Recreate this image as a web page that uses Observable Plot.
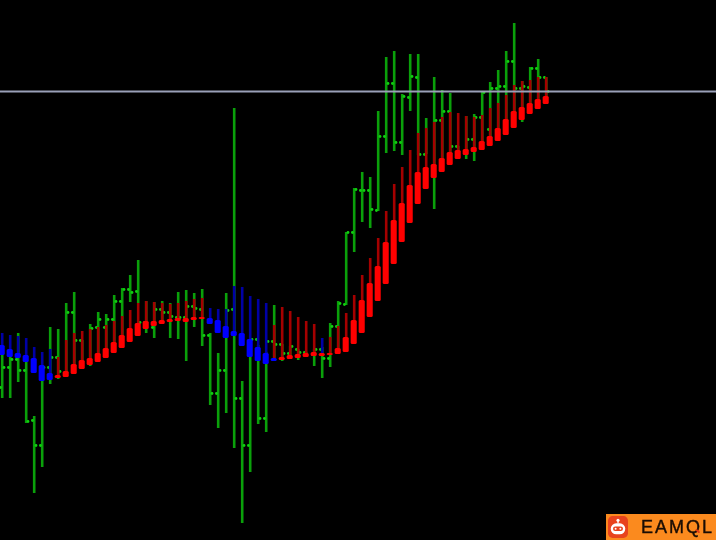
<!DOCTYPE html>
<html><head><meta charset="utf-8">
<script src="https://cdn.jsdelivr.net/npm/d3@7"></script>
<script src="https://cdn.jsdelivr.net/npm/@observablehq/plot@0.6"></script>
<style>
html,body{margin:0;padding:0;background:#000;width:716px;height:540px;overflow:hidden}
#chart{position:absolute;left:0;top:0;width:716px;height:540px;filter:blur(.35px)}
#chart svg{display:block;background:#000}
#logo{position:absolute;right:0;bottom:0;width:110px;height:26px;background:#fb8a1e;overflow:hidden;filter:blur(.3px)}
#logo svg{position:absolute;left:2px;top:2px}
#logo span{position:absolute;left:35px;top:2px;font:400 18px/23px "Liberation Sans",sans-serif;color:#1a0d05;letter-spacing:2px;-webkit-text-stroke:.4px #1a0d05;white-space:nowrap}
#logo b{position:absolute;left:89px;top:16px;width:5px;height:2.4px;border-radius:1px;background:#e23a17;transform:rotate(40deg)}
</style></head><body>
<div id="chart"></div>
<div id="logo"><svg width="20" height="22" viewBox="0 0 22 24"><rect x="0" y="0" width="22" height="24" rx="5" fill="#e8431d"/><circle cx="11" cy="4.5" r="1.7" fill="#fff"/><rect x="10.3" y="5" width="1.4" height="3" fill="#fff"/><rect x="3" y="8" width="16" height="12" rx="6" fill="#fff"/><rect x="5.5" y="11.5" width="11" height="5" rx="2.5" fill="#e8431d"/><circle cx="8.4" cy="14" r="1.1" fill="#fff"/><circle cx="13.6" cy="14" r="1.1" fill="#fff"/></svg><span>EAMQL</span><b></b></div>
<script>
const highs=[353,357,333,355,416,365,327,329,303,292,340,324,312,314,295,288,275,260,301,302,301,303,292,290,293,289,333,353,293,108,381,340,345,352,305,344,346,349,352,349,347,323,301,232,188,172,177,111,57,51,94,54,54,118,77,90,93,146,116,114,92,82,70,51,23,81,67,59,77];
const lows=[398,398,382,423,493,467,384,379,377,374,369,366,362,358,353,348,302,303,333,338,324,338,339,361,327,346,405,428,413,448,523,472,424,432,361,361,359,360,357,366,378,367,354,305,252,222,228,211,153,151,155,111,155,154,209,172,165,159,159,161,150,146,141,135,127,122,114,109,104];
const opens=[387,367,359,370,420,445,367,357,null,312,340,null,327,327,319,301,289,291,322,327,309,312,317,317,306,309,335,393,370,309,398,445,339,418,341,344,353,349,352,354,349,358,326,304,232,190,190,210,136,83,142,97,77,154,null,120,111,146,null,139,117,129,88,86,61,88,87,68,77];
const closes=[367,359,370,421,445,367,357,371,312,340,null,328,319,319,301,289,292,322,null,309,312,316,317,306,308,335,393,370,310,398,445,339,418,341,344,353,346,352,null,349,358,326,303,232,189,190,209,136,83,142,96,76,154,null,120,111,146,null,139,117,92,88,86,61,88,86,68,77,91];
const wickTops=[333,335,336,338,347,352,349,357,340,333,331,329,327,325,321,316,310,303,301,302,303,304,303,301,299,298,308,309,309,286,287,296,299,303,325,307,311,317,321,324,338,337,326,313,295,275,258,238,211,184,167,150,133,128,122,117,112,113,116,117,115,108,103,95,85,81,80,77,77];
const bodyTops=[345,349,353,355,358,365,373,375,371,364,360,358,353,348,342,335,328,323,321,321,320,319,318,318,317,317,318,320,326,331,333,339,347,353,358,357,355,354,353,352,353,353,348,337,320,300,283,266,242,220,203,185,172,167,164,158,152,150,149,147,141,136,128,119,111,107,103,99,96];
const bodyBottoms=[355,357,358,362,373,381,380,378,377,374,369,365,362,358,353,348,342,336,329,326,324,322,321,322,320,319,324,333,338,336,346,357,361,364,361,360,359,358,357,356,356,355,354,352,344,333,317,301,284,264,242,223,204,189,178,172,165,159,155,152,150,146,141,135,128,120,114,109,104];
const bodySides=["down","down","down","down","down","down","down","up","up","up","up","up","up","up","up","up","up","up","up","up","up","up","up","up","up","up","down","down","down","down","down","down","down","down","down","up","up","up","up","up","up","up","up","up","up","up","up","up","up","up","up","up","up","up","up","up","up","up","up","up","up","up","up","up","up","up","up","up","up"];
const wickSides=bodySides.map((s,i)=>i===34?"up":i===40?"down":s);
const levelLine=[91];
const bars=d3.range(bodyTops.length);

const plot=Plot.plot({
  width:716,height:540,margin:0,
  style:{background:"#000"},
  x:{domain:[-0.2125,89.2875],range:[0,716],axis:null},
  y:{domain:[540,0],range:[540,0],axis:null},
  color:{domain:["up","down"],range:["#ff0000","#0000ff"]},
  marks:[
    Plot.ruleX(bars,{x:i=>i,y1:i=>highs[i],y2:i=>lows[i],stroke:"#0aa00a",strokeWidth:2.6}),
    Plot.dot(bars.filter(i=>opens[i]!=null),{x:i=>i,y:i=>opens[i],r:1.4,dx:-1.8,fill:"#10d010",stroke:"none"}),
    Plot.dot(bars.filter(i=>closes[i]!=null),{x:i=>i,y:i=>closes[i],r:1.4,dx:1.8,fill:"#10d010",stroke:"none"}),
    Plot.ruleX(bars.filter(i=>wickSides[i]==="up"),{x:i=>i,y1:i=>wickTops[i],y2:i=>bodyTops[i],stroke:"#a50000",strokeWidth:2.6}),
    Plot.ruleX(bars.filter(i=>wickSides[i]==="down"),{x:i=>i,y1:i=>wickTops[i],y2:i=>bodyTops[i],stroke:"#0000a5",strokeWidth:2.6}),
    Plot.rect(bars,{x1:i=>i-.38,x2:i=>i+.38,y1:i=>bodyTops[i],y2:i=>bodyBottoms[i],fill:i=>bodySides[i],rx:1.5}),
    Plot.ruleY(levelLine,{y:d=>d,stroke:"#9aa0b8",strokeWidth:1.8})
  ]
});
document.getElementById("chart").append(plot);
</script>
</body></html>
